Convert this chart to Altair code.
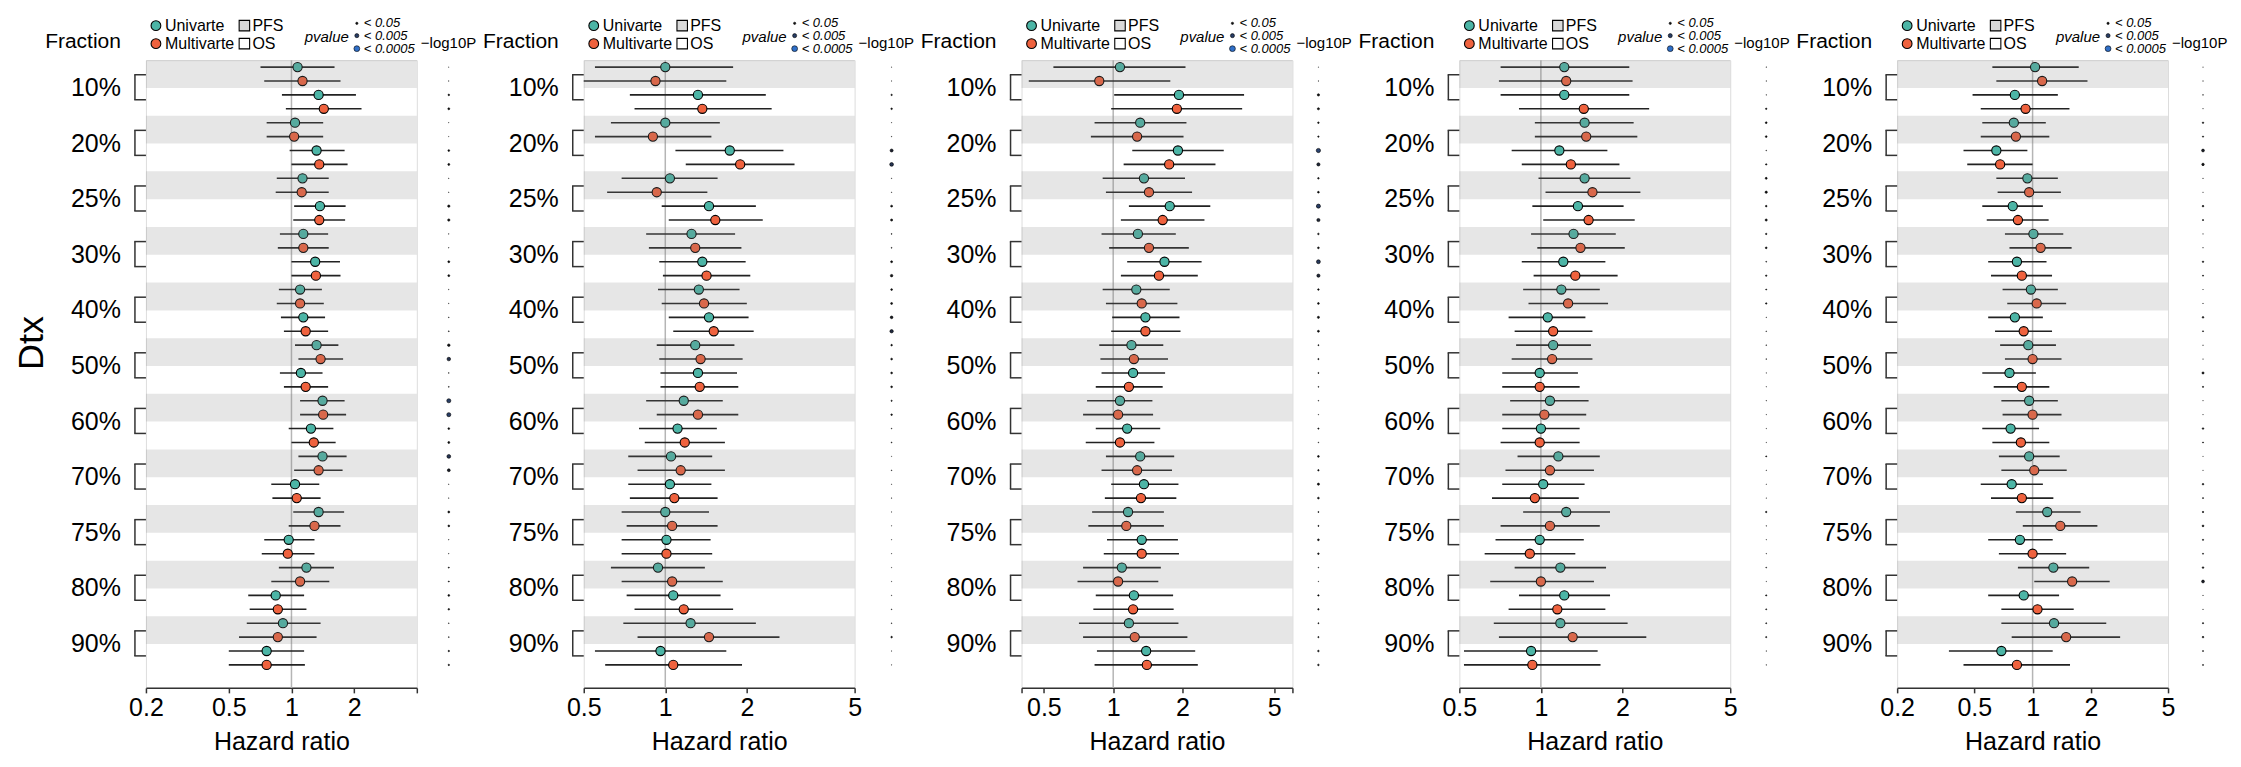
import altair as alt
import pandas as pd

FONT = "Liberation Sans"

FRACTIONS = ["10%", "20%", "25%", "30%", "40%", "50%", "60%", "70%", "75%", "80%", "90%"]
ENDPOINTS = ["PFS", "OS"]
MODELS = ["Univarte", "Multivarte"]
MODEL_COLORS = {"Univarte": "#4cb5a6", "Multivarte": "#ef623e"}
PVALUE_LABELS = ["< 0.05", "< 0.005", "< 0.0005"]
PVALUE_NLP = [1.3, 2.3, 3.3]

# ---- Panel 1 ----
P1_HR = [1.07, 1.13, 1.35, 1.43, 1.04, 1.03, 1.32, 1.36, 1.13, 1.12, 1.37, 1.36,
         1.14, 1.14, 1.30, 1.31, 1.10, 1.10, 1.14, 1.17, 1.32, 1.38, 1.11, 1.17,
         1.41, 1.42, 1.24, 1.28, 1.41, 1.35, 1.04, 1.06, 1.35, 1.29, 0.97, 0.96,
         1.18, 1.10, 0.84, 0.86, 0.91, 0.86, 0.76, 0.76]
P1_LO = [0.71, 0.74, 0.90, 0.94, 0.76, 0.76, 0.98, 1.00, 0.85, 0.84, 1.03, 1.02,
         0.88, 0.86, 1.00, 1.00, 0.87, 0.85, 0.89, 0.92, 1.04, 1.08, 0.88, 0.92,
         1.10, 1.10, 0.97, 1.00, 1.08, 1.03, 0.80, 0.81, 1.02, 0.97, 0.74, 0.72,
         0.87, 0.80, 0.62, 0.63, 0.61, 0.56, 0.50, 0.50]
P1_HI = [1.61, 1.72, 2.04, 2.17, 1.42, 1.42, 1.80, 1.86, 1.51, 1.51, 1.82, 1.81,
         1.50, 1.51, 1.71, 1.72, 1.40, 1.43, 1.45, 1.50, 1.68, 1.77, 1.41, 1.50,
         1.80, 1.83, 1.59, 1.63, 1.84, 1.76, 1.36, 1.38, 1.79, 1.72, 1.29, 1.29,
         1.60, 1.52, 1.15, 1.18, 1.38, 1.32, 1.15, 1.16]
P1_NLP = [0.25, 0.3, 0.9, 1.1, 0.25, 0.25, 1.0, 1.1, 0.3, 0.3, 1.3, 1.3,
          0.3, 0.3, 1.1, 1.1, 0.3, 0.3, 0.4, 0.5, 1.4, 2.0, 0.4, 0.5,
          2.3, 2.3, 1.0, 1.1, 2.1, 1.6, 0.3, 0.3, 1.1, 1.0, 0.3, 0.3,
          0.6, 0.6, 1.0, 0.9, 0.4, 0.5, 0.8, 0.8]

# ---- Panel 2 ----
P2_HR = [1.00, 0.92, 1.32, 1.37, 1.00, 0.90, 1.73, 1.89, 1.04, 0.93, 1.45, 1.53,
         1.25, 1.29, 1.37, 1.42, 1.33, 1.39, 1.45, 1.51, 1.29, 1.35, 1.32, 1.34,
         1.17, 1.32, 1.11, 1.18, 1.05, 1.14, 1.04, 1.08, 1.00, 1.06, 1.01, 1.01,
         0.94, 1.06, 1.07, 1.17, 1.24, 1.45, 0.96, 1.07]
P2_LO = [0.55, 0.50, 0.74, 0.77, 0.63, 0.55, 1.09, 1.19, 0.69, 0.61, 0.97, 1.03,
         0.85, 0.87, 0.95, 0.98, 0.94, 0.97, 1.03, 1.07, 0.93, 0.95, 0.96, 0.96,
         0.85, 0.93, 0.80, 0.84, 0.73, 0.79, 0.73, 0.74, 0.69, 0.72, 0.69, 0.69,
         0.63, 0.69, 0.72, 0.77, 0.70, 0.79, 0.55, 0.60]
P2_HI = [1.78, 1.68, 2.35, 2.47, 1.59, 1.48, 2.73, 3.00, 1.56, 1.43, 2.16, 2.29,
         1.81, 1.91, 1.98, 2.06, 1.88, 2.00, 2.03, 2.12, 1.80, 1.93, 1.84, 1.86,
         1.63, 1.86, 1.55, 1.66, 1.49, 1.66, 1.48, 1.56, 1.45, 1.56, 1.47, 1.49,
         1.40, 1.63, 1.60, 1.78, 2.16, 2.64, 1.68, 1.92]
P2_NLP = [0.25, 0.25, 0.8, 0.9, 0.25, 0.3, 1.7, 2.1, 0.3, 0.3, 1.1, 1.2,
          0.5, 0.5, 1.1, 1.4, 1.0, 1.1, 1.5, 1.9, 0.9, 1.0, 1.0, 1.0,
          0.7, 0.9, 0.4, 0.5, 0.25, 0.4, 0.25, 0.3, 0.25, 0.25, 0.25, 0.25,
          0.25, 0.25, 0.3, 0.4, 0.4, 0.9, 0.25, 0.25]

# ---- Panel 3 ----
P3_HR = [1.07, 0.87, 1.93, 1.89, 1.31, 1.27, 1.91, 1.75, 1.36, 1.43, 1.76, 1.64,
         1.28, 1.43, 1.67, 1.58, 1.26, 1.33, 1.38, 1.38, 1.20, 1.23, 1.22, 1.17,
         1.07, 1.05, 1.15, 1.07, 1.31, 1.27, 1.36, 1.32, 1.16, 1.14, 1.33, 1.33,
         1.09, 1.05, 1.23, 1.22, 1.17, 1.24, 1.39, 1.40]
P3_LO = [0.55, 0.43, 1.01, 0.98, 0.83, 0.80, 1.21, 1.11, 0.90, 0.93, 1.17, 1.08,
         0.89, 0.96, 1.15, 1.08, 0.90, 0.93, 0.99, 0.98, 0.87, 0.88, 0.89, 0.84,
         0.77, 0.74, 0.84, 0.76, 0.93, 0.89, 0.98, 0.92, 0.81, 0.78, 0.94, 0.91,
         0.74, 0.70, 0.84, 0.82, 0.71, 0.74, 0.85, 0.83]
P3_HI = [2.06, 1.77, 3.70, 3.63, 2.08, 2.02, 3.02, 2.78, 2.05, 2.20, 2.64, 2.49,
         1.87, 2.13, 2.42, 2.33, 1.76, 1.90, 1.94, 1.96, 1.65, 1.73, 1.68, 1.64,
         1.48, 1.49, 1.60, 1.51, 1.84, 1.80, 1.92, 1.88, 1.66, 1.66, 1.91, 1.93,
         1.61, 1.57, 1.82, 1.83, 1.92, 2.10, 2.27, 2.33]
P3_NLP = [0.25, 0.3, 1.3, 1.2, 0.9, 0.8, 2.4, 1.8, 0.9, 1.0, 2.3, 1.8,
          0.9, 1.0, 2.2, 1.8, 0.9, 1.0, 1.2, 1.1, 0.6, 0.7, 0.6, 0.5,
          0.4, 0.3, 0.7, 0.4, 1.0, 0.8, 1.2, 1.0, 0.6, 0.6, 1.0, 0.9,
          0.4, 0.3, 0.8, 0.8, 0.6, 0.7, 0.9, 0.9]

# ---- Panel 4 ----
P4_HR = [1.22, 1.24, 1.22, 1.44, 1.45, 1.47, 1.17, 1.29, 1.45, 1.55, 1.37, 1.50,
         1.32, 1.40, 1.21, 1.34, 1.19, 1.26, 1.06, 1.11, 1.11, 1.10, 0.99, 0.99,
         1.08, 1.03, 1.00, 0.99, 1.16, 1.08, 1.02, 0.95, 1.24, 1.08, 0.99, 0.91,
         1.18, 1.00, 1.22, 1.15, 1.18, 1.31, 0.92, 0.93]
P4_LO = [0.71, 0.70, 0.71, 0.83, 0.95, 0.95, 0.78, 0.85, 0.98, 1.04, 0.93, 1.02,
         0.92, 0.97, 0.85, 0.94, 0.86, 0.90, 0.76, 0.80, 0.81, 0.78, 0.72, 0.72,
         0.77, 0.72, 0.72, 0.71, 0.82, 0.74, 0.72, 0.66, 0.86, 0.71, 0.68, 0.62,
         0.80, 0.65, 0.83, 0.76, 0.67, 0.70, 0.52, 0.52]
P4_HI = [2.12, 2.18, 2.12, 2.51, 2.20, 2.27, 1.76, 1.95, 2.14, 2.33, 2.02, 2.22,
         1.89, 2.04, 1.73, 1.92, 1.65, 1.77, 1.46, 1.55, 1.53, 1.55, 1.37, 1.39,
         1.50, 1.47, 1.39, 1.39, 1.65, 1.57, 1.45, 1.38, 1.80, 1.65, 1.44, 1.34,
         1.74, 1.57, 1.80, 1.73, 2.09, 2.45, 1.62, 1.66]
P4_NLP = [0.3, 0.3, 0.3, 0.8, 1.0, 1.0, 0.4, 0.8, 1.1, 1.3, 0.9, 1.2,
          0.8, 1.0, 0.5, 0.8, 0.6, 0.8, 0.3, 0.4, 0.4, 0.4, 0.25, 0.25,
          0.3, 0.25, 0.25, 0.25, 0.6, 0.3, 0.25, 0.25, 0.8, 0.3, 0.25, 0.3,
          0.5, 0.25, 0.7, 0.6, 0.6, 0.7, 0.3, 0.3]

# ---- Panel 5 ----
P5_HR = [1.03, 1.12, 0.81, 0.92, 0.80, 0.82, 0.65, 0.68, 0.94, 0.96, 0.79, 0.84,
         1.01, 1.10, 0.83, 0.88, 0.98, 1.05, 0.81, 0.90, 0.95, 1.00, 0.76, 0.88,
         0.96, 1.00, 0.77, 0.87, 0.96, 1.02, 0.78, 0.88, 1.19, 1.39, 0.86, 1.00,
         1.28, 1.60, 0.90, 1.06, 1.29, 1.49, 0.69, 0.83]
P5_LO = [0.62, 0.65, 0.49, 0.54, 0.55, 0.54, 0.44, 0.46, 0.65, 0.66, 0.55, 0.58,
         0.72, 0.76, 0.59, 0.61, 0.70, 0.74, 0.59, 0.64, 0.68, 0.72, 0.55, 0.63,
         0.69, 0.70, 0.55, 0.62, 0.67, 0.69, 0.54, 0.61, 0.82, 0.89, 0.59, 0.67,
         0.84, 1.02, 0.59, 0.69, 0.69, 0.78, 0.37, 0.44]
P5_HI = [1.73, 1.92, 1.35, 1.55, 1.17, 1.22, 0.94, 1.00, 1.35, 1.40, 1.13, 1.21,
         1.44, 1.59, 1.18, 1.26, 1.35, 1.49, 1.13, 1.26, 1.32, 1.41, 1.04, 1.22,
         1.35, 1.41, 1.08, 1.22, 1.38, 1.50, 1.13, 1.28, 1.77, 2.16, 1.27, 1.49,
         1.96, 2.50, 1.37, 1.63, 2.40, 2.83, 1.27, 1.56]
P5_NLP = [0.25, 0.3, 0.4, 0.25, 0.8, 0.7, 1.6, 1.4, 0.3, 0.25, 0.9, 0.7,
          0.25, 0.3, 0.8, 0.6, 0.25, 0.3, 0.9, 0.6, 0.3, 0.25, 1.2, 0.7,
          0.25, 0.25, 0.9, 0.6, 0.25, 0.25, 0.9, 0.6, 0.8, 1.0, 0.7, 0.6,
          0.9, 1.6, 0.3, 0.3, 0.7, 0.9, 0.6, 0.6]

PANELS = [
    dict(hr=P1_HR, lo=P1_LO, hi=P1_HI, nlp=P1_NLP, domain=[0.2, 4], ticks=[0.2, 0.5, 1, 2, 4], hide=[4], dot_dx=32, ytitle=True),
    dict(hr=P2_HR, lo=P2_LO, hi=P2_HI, nlp=P2_NLP, domain=[0.5, 5], ticks=[0.5, 1, 2, 5], hide=[], dot_dx=37, ytitle=False),
    dict(hr=P3_HR, lo=P3_LO, hi=P3_HI, nlp=P3_NLP, domain=[0.4, 6], ticks=[0.4, 0.5, 1, 2, 5, 6], hide=[0.4, 6], dot_dx=26, ytitle=False),
    dict(hr=P4_HR, lo=P4_LO, hi=P4_HI, nlp=P4_NLP, domain=[0.5, 5], ticks=[0.5, 1, 2, 5], hide=[], dot_dx=36, ytitle=False),
    dict(hr=P5_HR, lo=P5_LO, hi=P5_HI, nlp=P5_NLP, domain=[0.2, 5], ticks=[0.2, 0.5, 1, 2, 5], hide=[], dot_dx=35, ytitle=False),
]

W = 271
H = 628
YS = alt.Scale(domain=[-0.5, 44.65], reverse=True, nice=False, zero=False)
SIZE_SCALE = alt.Scale(type="pow", exponent=2, domain=[0, 3.3], range=[0, 34])
FILL_SCALE = alt.Scale(domain=[1.3, 3.3], range=["#111111", "#2f6fc8"], clamp=True)


def txt(s, x, y, size, align="left", style="normal", angle=0):
    return alt.Chart(pd.DataFrame({"t": [s]})).mark_text(
        align=align, baseline="middle", fontSize=size, font=FONT,
        fontStyle=style, color="black", angle=angle
    ).encode(x=alt.value(x), y=alt.value(y), text="t:N")


def sym(shape, x, y, size, fill):
    return alt.Chart(pd.DataFrame({"t": [0]})).mark_point(
        shape=shape, filled=True, fill=fill, stroke="black", strokeWidth=1.1,
        size=size, opacity=1
    ).encode(x=alt.value(x), y=alt.value(y))


def pdot(x, y, nlp):
    return alt.Chart(pd.DataFrame({"nlp": [nlp]})).mark_point(
        shape="circle", filled=True, stroke="black", strokeWidth=0.6, opacity=1
    ).encode(
        x=alt.value(x), y=alt.value(y),
        size=alt.Size("nlp:Q", scale=SIZE_SCALE, legend=None),
        fill=alt.Fill("nlp:Q", scale=FILL_SCALE, legend=None),
    )


def make_panel(p):
    recs = []
    for fi, f in enumerate(FRACTIONS):
        for ei, e in enumerate(ENDPOINTS):
            for mi, m in enumerate(MODELS):
                i = fi * 4 + ei * 2 + mi
                recs.append(dict(row=i, fraction=f, endpoint=e, model=m,
                                 hr=p["hr"][i], lo=p["lo"][i], hi=p["hi"][i],
                                 nlp=p["nlp"][i], col=MODEL_COLORS[m]))
    df = pd.DataFrame(recs)
    frac = pd.DataFrame({
        "fraction": FRACTIONS,
        "b0": [fi * 4 - 0.5 for fi in range(len(FRACTIONS))],
        "b1": [fi * 4 + 1.5 for fi in range(len(FRACTIONS))],
        "ymid": [fi * 4 + 1.5 for fi in range(len(FRACTIONS))],
        "k0": [fi * 4 + 0.55 for fi in range(len(FRACTIONS))],
        "k1": [fi * 4 + 2.35 for fi in range(len(FRACTIONS))],
    })

    xs = alt.Scale(type="log", domain=p["domain"], nice=False)
    hide_expr = " || ".join(f"datum.value == {h}" for h in p["hide"]) if p["hide"] else "false"
    ax = alt.Axis(values=p["ticks"], format="~g",
                  labelExpr=f"({hide_expr}) ? '' : format(datum.value, '~g')",
                  title="Hazard ratio", grid=False, domainColor="#333333", domainWidth=1.5,
                  tickColor="#333333", tickWidth=1.5, tickSize=5, labelFontSize=25,
                  labelFont=FONT, labelColor="black", titleFontSize=25, titleFont=FONT,
                  titleFontWeight="normal", titleColor="black", labelPadding=3,
                  titlePadding=9, labelFlush=False, labelOverlap=False)

    ref = alt.Chart(pd.DataFrame({"v": [1]})).mark_rule(color="#b5b5b5", strokeWidth=1.5).encode(
        x=alt.X("v:Q", scale=xs, axis=ax), y=alt.value(0), y2=alt.value(H))
    err = alt.Chart(df).mark_rule(color="#222222", strokeWidth=1.6).encode(
        x=alt.X("lo:Q", scale=xs, axis=ax), x2="hi:Q",
        y=alt.Y("row:Q", scale=YS, axis=None))
    pts = alt.Chart(df).mark_circle(size=85, stroke="black", strokeWidth=1.1, opacity=1).encode(
        x=alt.X("hr:Q", scale=xs, axis=ax),
        y=alt.Y("row:Q", scale=YS, axis=None),
        color=alt.Color("col:N", scale=None))
    bands = alt.Chart(frac).mark_rect(color="#808080", opacity=0.2).encode(
        x=alt.value(0), x2=alt.value(W),
        y=alt.Y("b0:Q", scale=YS, axis=None), y2="b1:Q")
    br_v = alt.Chart(frac).mark_rule(color="#333333", strokeWidth=1.5).encode(
        x=alt.value(-11), y=alt.Y("k0:Q", scale=YS, axis=None), y2="k1:Q")
    br_t = alt.Chart(frac).mark_rule(color="#333333", strokeWidth=1.5).encode(
        x=alt.value(-11.7), x2=alt.value(0), y=alt.Y("k0:Q", scale=YS, axis=None))
    br_b = alt.Chart(frac).mark_rule(color="#333333", strokeWidth=1.5).encode(
        x=alt.value(-11.7), x2=alt.value(0), y=alt.Y("k1:Q", scale=YS, axis=None))
    labels = alt.Chart(frac).mark_text(align="right", baseline="middle", fontSize=25,
                                       font=FONT, color="black").encode(
        x=alt.value(-25), y=alt.Y("ymid:Q", scale=YS, axis=None), text="fraction:N")
    dots = alt.Chart(df).mark_point(shape="circle", filled=True, stroke="black",
                                    strokeWidth=0.6, opacity=1).encode(
        x=alt.value(W + p["dot_dx"]),
        y=alt.Y("row:Q", scale=YS, axis=None),
        size=alt.Size("nlp:Q", scale=SIZE_SCALE, legend=None),
        fill=alt.Fill("nlp:Q", scale=FILL_SCALE, legend=None))

    legend = [
        txt("Fraction", -25, -18.5, 21, align="right"),
        sym("circle", 10, -34.5, 95, MODEL_COLORS["Univarte"]),
        txt("Univarte", 19, -34.5, 16),
        sym("circle", 10, -16.5, 95, MODEL_COLORS["Multivarte"]),
        txt("Multivarte", 19, -16.5, 16),
        sym("square", 98.5, -34.5, 110, "#d9d9d9"),
        txt("PFS", 106.5, -34.5, 16),
        sym("square", 98.5, -16.5, 110, "#ffffff"),
        txt("OS", 106.5, -16.5, 16),
        txt("pvalue", 203, -23.5, 15, align="right", style="italic"),
        txt("\u2212log10P", 275, -16.8, 15),
    ]
    for lab, v, yy in zip(PVALUE_LABELS, PVALUE_NLP, [-36.8, -24.5, -11.5]):
        legend.append(pdot(211, yy, v))
        legend.append(txt(lab, 218, yy, 13, style="italic"))
    if p["ytitle"]:
        legend.append(txt("Dtx", -114, 283, 36, align="center", angle=270))

    return alt.layer(ref, err, pts, bands, br_v, br_t, br_b, labels, dots, *legend).properties(
        width=W, height=H)


panels = [make_panel(p) for p in PANELS]
chart = alt.hconcat(*panels, spacing=167, bounds="flush").properties(
    padding={"left": 5, "top": 8, "right": 5, "bottom": 0}
).configure_view(strokeWidth=0).configure(font=FONT)

chart.save("out.html", embed_options={"renderer": "svg", "actions": False})
